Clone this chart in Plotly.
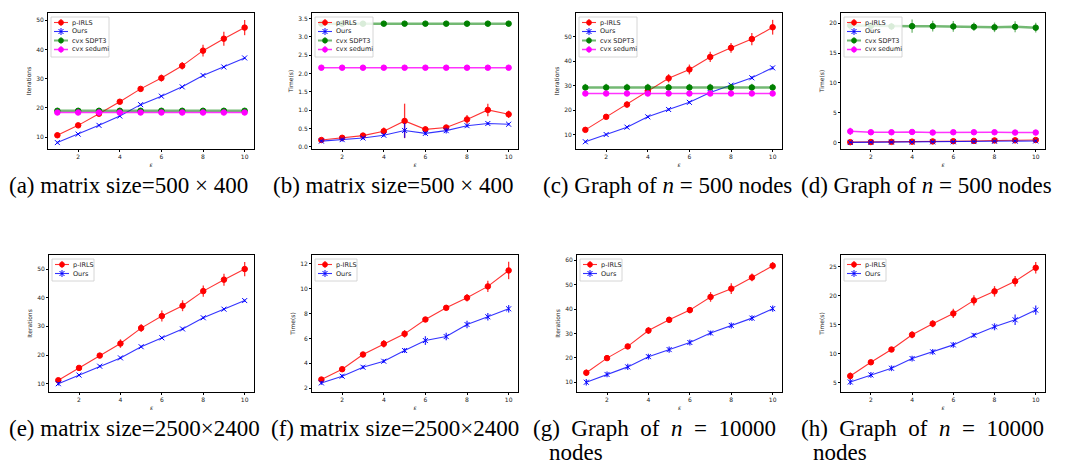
import plotly.graph_objects as go

W, H = 1070, 466
eps = [1, 2, 3, 4, 5, 6, 7, 8, 9, 10]

# (a) iterations, matrix 500x400
a_pirls = [10.6, 14.0, 18.0, 22.1, 26.5, 30.2, 34.4, 39.6, 43.7, 47.5]
a_pirls_err = [0.9, 0.6, 0.7, 0.7, 0.7, 1.2, 1.3, 2.0, 2.4, 2.6]
a_ours = [8.1, 11.0, 14.0, 17.2, 21.1, 24.0, 27.2, 31.1, 34.0, 37.1]
a_ours_err = [0.3] * 10
a_sdpt3 = [19.0] * 10
a_sdpt3_err = [0.4] * 10
a_sedumi = [18.4] * 10
a_sedumi_err = [0.3] * 10

# (b) time, matrix 500x400
b_pirls = [0.19, 0.25, 0.31, 0.43, 0.71, 0.48, 0.53, 0.75, 1.01, 0.89]
b_pirls_err = [0.03, 0.03, 0.04, 0.10, 0.47, 0.08, 0.06, 0.12, 0.17, 0.10]
b_ours = [0.16, 0.20, 0.245, 0.32, 0.45, 0.37, 0.445, 0.58, 0.64, 0.62]
b_ours_err = [0.03, 0.05, 0.04, 0.04, 0.20, 0.05, 0.08, 0.05, 0.04, 0.03]
b_sdpt3 = [3.36] * 10
b_sdpt3_err = [0.07] * 10
b_sedumi = [2.16] * 10
b_sedumi_err = [0.02] * 10

# (c) iterations, graph n=500
c_pirls = [12.0, 17.3, 22.3, 27.9, 33.0, 36.6, 41.7, 45.4, 49.0, 53.8]
c_pirls_err = [0.8, 0.8, 1.2, 1.3, 1.7, 2.0, 2.1, 2.0, 2.5, 3.0]
c_ours = [7.15, 10.1, 13.1, 17.3, 20.3, 23.2, 27.2, 30.2, 33.2, 37.25]
c_ours_err = [0.4, 0.4, 0.5, 0.5, 0.5, 0.5, 0.6, 0.5, 0.6, 0.6]
c_sdpt3 = [29.25] * 10
c_sdpt3_err = [1.5] * 10
c_sedumi = [26.8] * 10
c_sedumi_err = [0.8] * 10

# (d) time, graph n=500
d_pirls = [0.10, 0.12, 0.15, 0.18, 0.22, 0.25, 0.30, 0.38, 0.40, 0.45]
d_pirls_err = [0.15] * 10
d_ours = [0.05, 0.07, 0.09, 0.11, 0.14, 0.16, 0.19, 0.24, 0.26, 0.30]
d_ours_err = [0.1] * 10
d_sdpt3 = [19.6, 19.55, 19.45, 19.5, 19.5, 19.45, 19.4, 19.3, 19.4, 19.25]
d_sdpt3_err = [0.8, 0.5, 0.6, 1.1, 0.9, 0.9, 0.7, 0.8, 0.9, 0.8]
d_sedumi = [1.9, 1.75, 1.75, 1.8, 1.7, 1.75, 1.75, 1.75, 1.7, 1.7]
d_sedumi_err = [0.6, 0.3, 0.3, 0.3, 0.3, 0.3, 0.3, 0.3, 0.3, 0.3]

# (e) iterations, matrix 2500x2400
e_pirls = [11.2, 15.5, 19.8, 24.0, 29.4, 33.6, 37.2, 42.3, 46.3, 50.0]
e_pirls_err = [0.8, 0.8, 0.8, 1.5, 1.4, 1.9, 1.9, 2.0, 2.1, 2.5]
e_ours = [10.0, 13.0, 16.1, 19.0, 22.9, 26.0, 29.1, 33.0, 36.0, 39.0]
e_ours_err = [0.6, 0.4, 0.4, 0.4, 0.4, 0.4, 0.4, 0.4, 0.4, 0.4]

# (f) time, matrix 2500x2400
f_pirls = [2.70, 3.53, 4.71, 5.57, 6.37, 7.52, 8.46, 9.27, 10.18, 11.46]
f_pirls_err = [0.15, 0.15, 0.15, 0.30, 0.30, 0.15, 0.20, 0.30, 0.45, 0.70]
f_ours = [2.43, 2.97, 3.69, 4.17, 5.03, 5.83, 6.15, 7.12, 7.74, 8.38]
f_ours_err = [0.15, 0.15, 0.15, 0.15, 0.20, 0.35, 0.30, 0.30, 0.30, 0.30]

# (g) iterations, graph n=10000
g_pirls = [13.9, 19.9, 24.7, 31.2, 35.6, 39.6, 45.0, 48.4, 53.0, 57.8]
g_pirls_err = [1.3, 1.0, 0.9, 1.4, 1.3, 1.3, 2.0, 2.2, 1.6, 1.5]
g_ours = [10.0, 13.2, 16.3, 20.5, 23.4, 26.3, 30.2, 33.3, 36.3, 40.2]
g_ours_err = [1.3, 1.2, 1.3, 1.2, 1.3, 1.2, 1.0, 1.2, 1.2, 1.3]

# (h) time, graph n=10000
h_pirls = [6.2, 8.56, 10.75, 13.3, 15.2, 16.95, 19.2, 20.75, 22.5, 24.8]
h_pirls_err = [0.6, 0.4, 0.4, 0.6, 0.6, 0.8, 0.9, 0.9, 0.9, 1.0]
h_ours = [5.17, 6.38, 7.53, 9.2, 10.35, 11.55, 13.2, 14.66, 15.86, 17.53]
h_ours_err = [0.5, 0.5, 0.5, 0.5, 0.5, 0.5, 0.4, 0.6, 0.9, 0.8]

captions_top = [
    "(a) matrix size=500 × 400",
    "(b) matrix size=500 × 400",
    "(c) Graph of <i>n</i> = 500 nodes",
    "(d) Graph of <i>n</i> = 500 nodes",
]
captions_bottom = [
    "(e) matrix size=2500×2400",
    "(f) matrix size=2500×2400",
    "(g)\u2002Graph\u2002of\u2002<i>n</i>\u2002=\u200210000",
    "(h)\u2002Graph\u2002of\u2002<i>n</i>\u2002=\u200210000",
]

# ---- layout geometry (pixels) ----
panels = [
    (40, 246, 5, 141), (304, 510, 5, 141), (568, 774, 5, 141), (833, 1037, 5, 141),
    (41, 246, 247, 384), (304, 510, 247, 384), (569, 774, 247, 384), (833, 1037, 247, 384),
]
yranges = [(5.9, 52.5), (-0.055, 3.65), (4.2, 59.6), (-1.05, 21.7),
           (7.1, 54.9), (1.7, 12.7), (6.0, 62.2), (3.45, 27.0)]
yticks = [[10, 20, 30, 40, 50], [0, 0.5, 1, 1.5, 2, 2.5, 3, 3.5], [10, 20, 30, 40, 50],
          [0, 5, 10, 15, 20], [10, 20, 30, 40, 50], [2, 4, 6, 8, 10, 12],
          [10, 20, 30, 40, 50, 60], [5, 10, 15, 20, 25]]
ylabels = ["Iterations", "Time(s)", "Iterations", "Time(s)",
           "Iterations", "Time(s)", "Iterations", "Time(s)"]

series = [
    [("p-IRLS", a_pirls, a_pirls_err), ("Ours", a_ours, a_ours_err),
     ("cvx SDPT3", a_sdpt3, a_sdpt3_err), ("cvx sedumi", a_sedumi, a_sedumi_err)],
    [("p-IRLS", b_pirls, b_pirls_err), ("Ours", b_ours, b_ours_err),
     ("cvx SDPT3", b_sdpt3, b_sdpt3_err), ("cvx sedumi", b_sedumi, b_sedumi_err)],
    [("p-IRLS", c_pirls, c_pirls_err), ("Ours", c_ours, c_ours_err),
     ("cvx SDPT3", c_sdpt3, c_sdpt3_err), ("cvx sedumi", c_sedumi, c_sedumi_err)],
    [("p-IRLS", d_pirls, d_pirls_err), ("Ours", d_ours, d_ours_err),
     ("cvx SDPT3", d_sdpt3, d_sdpt3_err), ("cvx sedumi", d_sedumi, d_sedumi_err)],
    [("p-IRLS", e_pirls, e_pirls_err), ("Ours", e_ours, e_ours_err)],
    [("p-IRLS", f_pirls, f_pirls_err), ("Ours", f_ours, f_ours_err)],
    [("p-IRLS", g_pirls, g_pirls_err), ("Ours", g_ours, g_ours_err)],
    [("p-IRLS", h_pirls, h_pirls_err), ("Ours", h_ours, h_ours_err)],
]

styles = {
    "p-IRLS": dict(color="#ff0000", line="rgba(255,0,0,0.8)", symbol="circle", size=5.5, width=1.1),
    "Ours": dict(color="#0000ff", line="rgba(0,0,255,0.8)", symbol="x-thin", size=5, width=1.1),
    "cvx SDPT3": dict(color="#008000", line="rgba(0,128,0,0.55)", symbol="circle", size=5.5, width=2.5),
    "cvx sedumi": dict(color="#ff00ff", line="rgba(255,0,255,0.8)", symbol="circle", size=5.5, width=1.5),
}

fig = go.Figure()
layout = dict(width=W, height=H, margin=dict(l=0, r=0, t=0, b=0),
              paper_bgcolor="white", plot_bgcolor="white", showlegend=False,
              font=dict(family="DejaVu Sans", size=6, color="#222222"))


def px2x(p):
    return p / W


def px2y(p):
    return 1 - p / H


shapes = []
annotations = []

for i, (x0, x1, yt, yb) in enumerate(panels):
    n = i + 1
    xa = "xaxis" if n == 1 else f"xaxis{n}"
    ya = "yaxis" if n == 1 else f"yaxis{n}"
    common = dict(showline=True, mirror=True, linecolor="black", linewidth=1,
                  ticks="outside", ticklen=2, tickwidth=0.8, tickcolor="black",
                  showgrid=False, zeroline=False, tickfont=dict(size=6, color="#222222"))
    layout[xa] = dict(domain=[px2x(x0), px2x(x1)], anchor=f"y{n}" if n > 1 else "y",
                      range=[0.55, 10.45], tickvals=[2, 4, 6, 8, 10],
                      title=dict(text="<i>ε</i>", font=dict(size=6), standoff=3), **common)
    layout[ya] = dict(domain=[px2y(yb), px2y(yt)], anchor=f"x{n}" if n > 1 else "x",
                      range=list(yranges[i]), tickvals=yticks[i],
                      tickformat=".1f" if i == 1 else None,
                      title=dict(text=ylabels[i], font=dict(size=6), standoff=4), **common)
    for name, vals, errs in series[i]:
        st = styles[name]
        fig.add_trace(go.Scatter(
            x=eps, y=vals, name=name, mode="lines+markers",
            xaxis=f"x{n}" if n > 1 else "x", yaxis=f"y{n}" if n > 1 else "y",
            line=dict(color=st["line"], width=st["width"]),
            marker=dict(symbol=st["symbol"], size=st["size"], color=st["color"],
                        line=dict(color=st["color"], width=1.0)),
            error_y=dict(type="data", array=errs, visible=True, color=st["line"],
                         thickness=1.3, width=0),
        ))

    # compact matplotlib-style legend (decoration built from paper coordinates)
    names = [s[0] for s in series[i]]
    bl, bt = x0 + 3, yt + 4
    bw = 58 if len(names) == 4 else 42
    bh = 5 + 9 * len(names) - 1
    shapes.append(dict(type="rect", xref="paper", yref="paper",
                       x0=px2x(bl), x1=px2x(bl + bw), y0=px2y(bt + bh), y1=px2y(bt),
                       fillcolor="rgba(255,255,255,0.85)", line=dict(color="#cccccc", width=0.8)))
    for k, name in enumerate(names):
        st = styles[name]
        cy = bt + 5.5 + 9 * k
        shapes.append(dict(type="line", xref="paper", yref="paper",
                           x0=px2x(bl + 3), x1=px2x(bl + 17), y0=px2y(cy), y1=px2y(cy),
                           line=dict(color=st["line"], width=min(st["width"], 2.0))))
        cx = bl + 10
        shapes.append(dict(type="line", xref="paper", yref="paper",
                           x0=px2x(cx), x1=px2x(cx), y0=px2y(cy - 3.5), y1=px2y(cy + 3.5),
                           line=dict(color=st["line"], width=1.2)))
        if st["symbol"] == "circle":
            shapes.append(dict(type="circle", xref="paper", yref="paper",
                               x0=px2x(cx - 2.6), x1=px2x(cx + 2.6),
                               y0=px2y(cy + 2.6), y1=px2y(cy - 2.6),
                               fillcolor=st["color"], line=dict(color=st["color"], width=0.5)))
        else:
            for dy in (-1, 1):
                shapes.append(dict(type="line", xref="paper", yref="paper",
                                   x0=px2x(cx - 2.5), x1=px2x(cx + 2.5),
                                   y0=px2y(cy - 2.5 * dy), y1=px2y(cy + 2.5 * dy),
                                   line=dict(color=st["color"], width=1.0)))
        annotations.append(dict(text=name, x=px2x(bl + 20), y=px2y(cy), xref="paper", yref="paper",
                                xanchor="left", yanchor="middle", showarrow=False,
                                borderpad=0, font=dict(size=6.5, color="#222222")))

cap_font = dict(family="Liberation Serif", size=23, color="black")
top_x = [0, 264, 534, 792]
for tx, txt in zip(top_x, captions_top):
    annotations.append(dict(text=txt, x=px2x(tx), y=px2y(178), xref="paper", yref="paper",
                            xanchor="left", yanchor="middle", showarrow=False, align="left",
                            borderpad=0, font=cap_font))
bot_x = [0, 262, 524, 792]
for tx, txt in zip(bot_x, captions_bottom):
    annotations.append(dict(text=txt, x=px2x(tx), y=px2y(420), xref="paper", yref="paper",
                            xanchor="left", yanchor="middle", showarrow=False, align="left",
                            borderpad=0, font=cap_font))
for cx in [568, 832]:
    annotations.append(dict(text="nodes", x=px2x(cx), y=px2y(444), xref="paper", yref="paper",
                            xanchor="center", yanchor="middle", showarrow=False,
                            borderpad=0, font=cap_font))
layout["annotations"] = annotations
layout["shapes"] = shapes

fig.update_layout(**layout)
fig.write_html("out.html")
